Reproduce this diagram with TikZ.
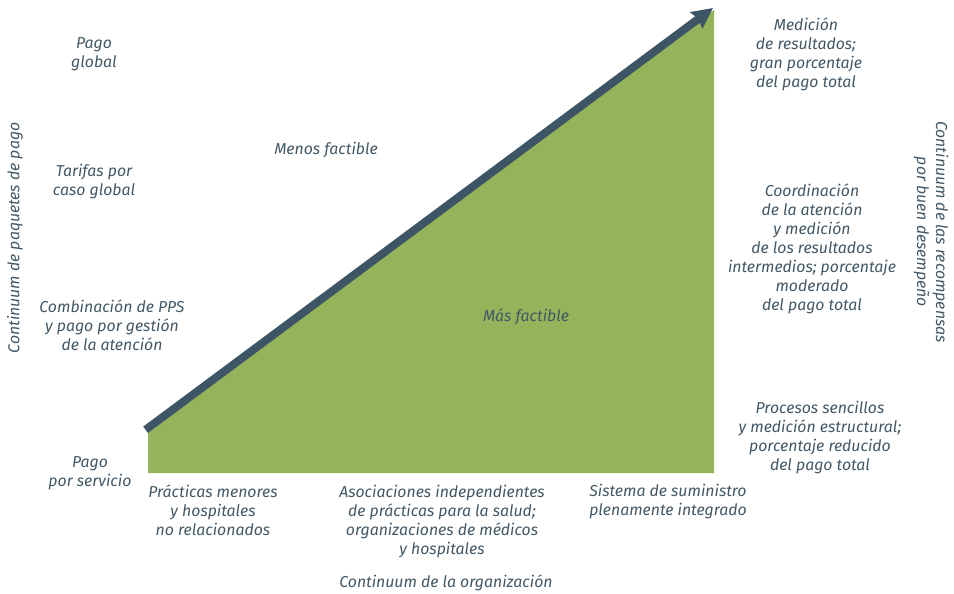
\documentclass[tikz,border=0pt]{standalone}
\usepackage{fontspec}
\setmainfont{Fira Sans}
\usetikzlibrary{arrows.meta}
\definecolor{textgray}{HTML}{435866}
\definecolor{arrowgray}{HTML}{3E5566}
\definecolor{factgreen}{HTML}{94B35A}
\tikzstyle{label} = [align=center, text=textgray, font=\fontsize{13.5}{16.2}\selectfont\itshape, inner sep=0pt]
\tikzstyle{area} = [fill=factgreen, draw=none]
\tikzstyle{arrow} = [-{Stealth[length=0.62cm,width=0.6cm,inset=0.08cm]}, line width=0.24cm, draw=arrowgray]

\begin{document}
\begin{tikzpicture}[x=0.03cm, y=-0.03cm]
\useasboundingbox (0,0) rectangle (954,594);
%zona verde y flecha
\coordinate (low) at (148,433);
\coordinate (high) at (714,10);
\fill[area] (low) -- (148,473) -- (714,473) -- (high) -- cycle;
\coordinate (astart) at (145.6,429.8);
\coordinate (aend) at (713,8);
\draw[arrow] (astart) -- (aend);
%textos de la izquierda
\node[label](pglobal) at (94,54){Pago\\global};
\node[label](tarifas) at (94,182){Tarifas por\\caso global};
\node[label](combi) at (112,325){Combinación de PPS\\y pago por gestión\\de la atención};
\node[label](pserv) at (90,473){Pago\\por servicio};
\node[label, rotate=90](ejeizq) at (15,238){Continuum de paquetes de pago};
%textos del centro
\node[label](menos) at (326,150){Menos factible};
\node[label](mas) at (526,317){Más factible};
%textos de la derecha
\node[label](medres) at (806,54){Medición\\de resultados;\\gran porcentaje\\del pago total};
\node[label](coord) at (812,249){Coordinación\\de la atención\\y medición\\de los resultados\\intermedios; porcentaje\\moderado\\del pago total};
\node[label](procesos) at (820,438){Procesos sencillos\\y medición estructural;\\porcentaje reducido\\del pago total};
\node[label, rotate=-90](ejeder) at (931,232){Continuum de las recompensas\\por buen desempeño};
%textos de abajo
\node[label](practicas) at (213,510){Prácticas menores\\y hospitales\\no relacionados};
\node[label](asoc) at (442,522){Asociaciones independientes\\de prácticas para la salud;\\organizaciones de médicos\\y hospitales};
\node[label](sistema) at (668,502){Sistema de suministro\\plenamente integrado};
\node[label](ejeabajo) at (446,583){Continuum de la organización};
\end{tikzpicture}
\end{document}
